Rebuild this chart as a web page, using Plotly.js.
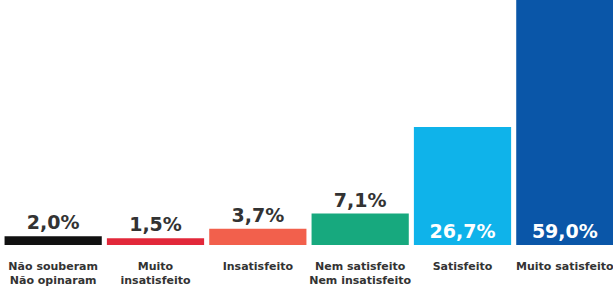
<!DOCTYPE html>
<html>
<head>
<meta charset="utf-8">
<script src="https://cdn.plot.ly/plotly-3.0.1.min.js"></script>
<style>html,body{margin:0;padding:0;background:#fff;overflow:hidden;}#wrap{width:613px;height:287px;overflow:hidden;}#chart{width:616px;height:287px;}</style>
</head>
<body>
<div id="wrap"><div id="chart"></div></div>
<script>
var categories = ["Não souberam<br>Não opinaram", "Muito<br>insatisfeito", "Insatisfeito", "Nem satisfeito<br>Nem insatisfeito", "Satisfeito", "Muito satisfeito"];
var values = [2.0, 1.5, 3.7, 7.1, 26.7, 59.0];
var barColors = ["#111111", "#e2283a", "#f2604c", "#17a97e", "#0fb3ea", "#0a56a8"];
var textPositions = ["outside", "outside", "outside", "outside", "inside", "inside"];

var trace = {
  type: "bar",
  x: categories,
  y: values,
  marker: {color: barColors},
  texttemplate: "%{y:.1f}%",
  textposition: textPositions,
  insidetextanchor: "start",
  cliponaxis: true,
  constraintext: "none",
  outsidetextfont: {family: "DejaVu Sans", size: 19, color: "#333333", weight: "bold"},
  insidetextfont: {family: "DejaVu Sans", size: 19, color: "#ffffff", weight: "bold"},
  hoverinfo: "none"
};

var layout = {
  width: 616,
  height: 287,
  margin: {l: 2, r: 0, t: 0, b: 42},
  paper_bgcolor: "#ffffff",
  plot_bgcolor: "#ffffff",
  separators: ",.",
  bargap: 0.05,
  showlegend: false,
  xaxis: {
    type: "category",
    showgrid: false,
    zeroline: false,
    showline: false,
    ticks: "",
    ticklabelstandoff: 13,
    tickfont: {family: "DejaVu Sans", size: 11, color: "#333333", weight: "bold"},
    automargin: false
  },
  yaxis: {
    range: [0, 55.4],
    visible: false,
    showgrid: false,
    zeroline: false,
    fixedrange: true
  }
};

Plotly.newPlot("chart", [trace], layout, {staticPlot: true, displayModeBar: false});
</script>
</body>
</html>
